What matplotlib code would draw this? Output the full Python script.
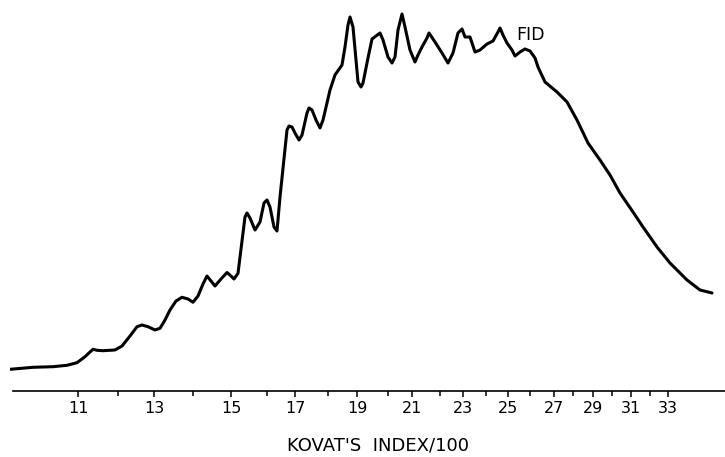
import matplotlib
matplotlib.use("Agg")
import matplotlib.pyplot as plt

# FID chromatogram: retention time (min) vs. detector response (% of max)
time_min = [
    0.0, 2.875, 5.375, 7.125, 8.375, 9.375, 10.0, 10.375, 10.875, 11.625,
    13.125, 14.0, 15.0, 15.875, 16.5, 17.25, 18.125, 18.75, 19.375, 20.0,
    20.75, 21.5, 22.25, 22.875, 23.5, 24.125, 24.625, 25.125, 25.625, 26.375,
    27.125, 27.625, 28.0, 28.5, 29.375, 29.625, 30.0, 30.625, 31.25, 31.75,
    32.125, 32.5, 33.0, 33.375, 33.75, 34.625, 34.875, 35.25, 35.625, 36.125,
    36.5, 37.125, 37.375, 37.75, 38.25, 38.75, 39.125, 39.625, 40.0, 40.625,
    41.5, 41.875, 42.25, 42.5, 42.875, 43.25, 43.5, 43.875, 44.125, 44.75,
    45.25, 45.75, 46.25, 46.625, 47.25, 47.75, 48.125, 48.5, 49.0, 49.375,
    50.0, 50.625, 51.0, 51.5, 52.125, 52.375, 53.125, 54.0, 54.75, 55.375,
    56.0, 56.5, 56.875, 57.5, 58.125, 58.75, 59.625, 60.375, 61.0, 61.25,
    61.625, 62.125, 62.75, 63.125, 63.75, 64.375, 65.0, 65.625, 66.0, 66.875,
    68.375, 69.625, 70.875, 72.25, 73.75, 75.0, 76.25, 77.875, 79.125, 80.875,
    82.5, 84.625, 86.25, 87.75,
]
response = [
    5.74, 6.27, 6.43, 6.80, 7.49, 9.07, 10.32, 11.03, 10.77, 10.66,
    10.85, 11.90, 14.55, 17.01, 17.46, 17.01, 16.14, 16.59, 18.78, 21.43,
    23.81, 24.79, 24.34, 23.47, 25.13, 28.31, 30.42, 29.10, 27.78, 29.63,
    31.35, 30.42, 29.63, 31.14, 46.03, 47.09, 45.77, 42.59, 44.71, 49.74,
    50.53, 48.68, 43.39, 42.33, 51.32, 69.05, 70.11, 69.84, 68.25, 66.40,
    67.72, 73.54, 74.87, 74.34, 71.69, 69.58, 71.69, 76.19, 79.63, 83.60,
    86.24, 91.01, 96.83, 98.94, 96.30, 87.57, 81.75, 80.42, 81.48, 88.10,
    93.12, 93.92, 94.71, 92.86, 88.36, 86.77, 88.36, 95.50, 99.74, 96.30,
    90.21, 87.04, 88.89, 91.01, 93.39, 94.71, 92.33, 89.42, 86.77, 89.42,
    94.71, 95.77, 93.65, 93.65, 89.68, 90.21, 91.80, 92.59, 94.97, 96.03,
    94.18, 92.06, 90.21, 88.62, 89.68, 90.48, 89.95, 88.10, 85.71, 81.75,
    79.10, 76.46, 71.69, 65.61, 61.11, 57.14, 52.38, 47.35, 43.39, 38.10,
    33.86, 29.37, 26.72, 25.93,
]

# Kovats index (/100) calibration marks along the time axis
kovats_index = list(range(11, 34))
kovats_time = [
    8.5, 13.5, 18.0, 22.875, 27.625, 32.125, 35.625, 39.75, 43.375, 47.25,
    50.25, 53.75, 56.625, 59.5, 62.25, 65.0, 68.0, 70.375, 72.875, 75.25,
    77.625, 80.0, 82.25,
]
major_ticks = [t for k, t in zip(kovats_index, kovats_time) if k % 2 == 1]
major_labels = [str(k) for k in kovats_index if k % 2 == 1]
minor_ticks = [t for k, t in zip(kovats_index, kovats_time) if k % 2 == 0]

W, H = 725, 457
fig = plt.figure(figsize=(W / 100, H / 100), dpi=100)
ax = fig.add_axes([10 / W, (H - 391) / H, 715 / W, 391 / H])

ax.plot(time_min, response, color="black", lw=2.2,
        solid_joinstyle="round", solid_capstyle="round")

ax.set_xlim(0, 89.375)
ax.set_ylim(0, 391 / 3.78)

for side in ("top", "right", "left"):
    ax.spines[side].set_visible(False)
ax.spines["bottom"].set_bounds(0.375, 89.375)
ax.spines["bottom"].set_linewidth(1.2)
ax.set_yticks([])

ax.set_xticks(major_ticks)
ax.set_xticklabels(major_labels)
ax.set_xticks(minor_ticks, minor=True)
ax.tick_params(axis="x", which="major", direction="out", length=4.5,
               width=1.1, pad=3, labelsize=11.5)
ax.tick_params(axis="x", which="minor", direction="out", length=3.5,
               width=1.1)

ax.text(65.1, 94.2, "FID", fontsize=12.5, ha="center", va="center")

fig.text(378 / W, 1 - 446 / H, "KOVAT'S  INDEX/100", fontsize=13,
         ha="center", va="center")

fig.savefig("out.png", dpi=100)
